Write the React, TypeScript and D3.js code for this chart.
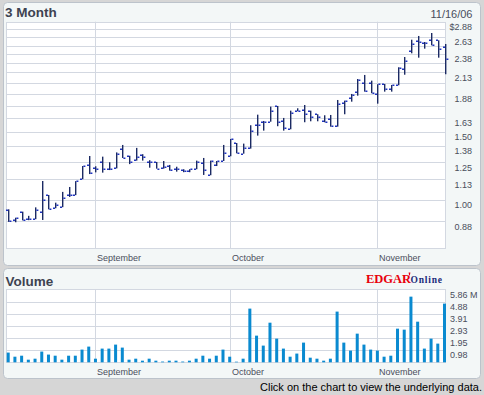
import React from 'react';
import * as d3 from 'd3';

const dates = ["08/15","08/16","08/17","08/18","08/21","08/22","08/23","08/24","08/25","08/28","08/29","08/30","08/31","09/01","09/05","09/06","09/07","09/08","09/11","09/12","09/13","09/14","09/15","09/18","09/19","09/20","09/21","09/22","09/25","09/26","09/27","09/28","09/29","10/02","10/03","10/04","10/05","10/06","10/09","10/10","10/11","10/12","10/13","10/16","10/17","10/18","10/19","10/20","10/23","10/24","10/25","10/26","10/27","10/30","10/31","11/01","11/02","11/03","11/06","11/07","11/08","11/09","11/10","11/13","11/14","11/15"];

const opens = [0.942,0.887,0.930,0.892,0.891,0.930,1.029,0.955,0.957,1.026, 1.028,1.130,1.230,1.208,1.250,1.199,1.205,1.350,1.297,1.263, 1.305,1.252,1.252,1.206,1.225,1.199,1.194,1.185,1.199,1.247, 1.157,1.230,1.259,1.295,1.401,1.315,1.358,1.557,1.587,1.590, 1.746,1.594,1.520,1.692,1.702,1.698,1.662,1.600,1.613,1.548, 1.780,1.827,1.894,2.001,1.998,1.871,1.986,1.935,1.974,2.171, 2.416,2.564,2.533,2.579,2.579,2.474];
const highs = [0.945,0.899,0.932,0.909,0.956,1.118,1.029,0.983,1.048,1.079, 1.117,1.222,1.297,1.220,1.292,1.250,1.325,1.385,1.299,1.361, 1.311,1.265,1.252,1.259,1.230,1.217,1.199,1.199,1.262,1.282, 1.262,1.259,1.385,1.435,1.401,1.396,1.557,1.658,1.597,1.739, 1.746,1.626,1.698,1.722,1.756,1.698,1.662,1.652,1.655,1.809, 1.802,1.875,2.049,2.099,2.029,1.986,1.990,1.978,2.197,2.335, 2.588,2.646,2.553,2.693,2.579,2.523];
const lows = [0.877,0.875,0.885,0.886,0.891,0.887,0.945,0.951,0.957,1.017, 1.028,1.130,1.165,1.177,1.175,1.193,1.205,1.282,1.236,1.262, 1.262,1.210,1.203,1.203,1.189,1.182,1.178,1.178,1.199,1.159, 1.157,1.222,1.259,1.295,1.318,1.315,1.355,1.464,1.508,1.590, 1.548,1.508,1.520,1.692,1.585,1.594,1.594,1.585,1.544,1.544, 1.662,1.791,1.856,1.901,1.883,1.770,1.901,1.901,1.974,2.102, 2.387,2.326,2.454,2.503,2.326,2.108];
const closes = [0.882,0.898,0.887,0.891,0.940,0.998,0.945,0.970,1.010,1.026, 1.117,1.222,1.171,1.199,1.199,1.199,1.311,1.284,1.252,1.291, 1.292,1.252,1.203,1.217,1.196,1.199,1.185,1.199,1.254,1.194, 1.259,1.259,1.323,1.433,1.318,1.358,1.505,1.557,1.590,1.695, 1.590,1.535,1.672,1.695,1.662,1.632,1.632,1.590,1.548,1.767, 1.802,1.864,2.037,1.905,1.889,1.986,1.935,1.974,2.192,2.277, 2.518,2.549,2.533,2.512,2.445,2.304];
const volumes = [0.78,0.45,0.53,0.21,0.29,0.86,0.62,0.53,0.21,0.53, 0.53,1.02,1.26,0.29,1.10,1.10,1.42,1.18,0.21,0.29, 0.13,0.29,0.13,0.06,0.13,0.13,0.06,0.13,0.29,0.53, 0.29,0.53,1.02,0.45,0.05,0.29,4.31,2.14,1.34,3.18, 1.90,1.10,0.45,0.70,1.58,0.37,0.29,0.13,0.29,4.07, 1.58,0.94,2.30,1.42,1.02,0.94,0.45,0.53,2.70,2.62, 5.27,3.26,1.10,1.90,1.50,4.71];

const priceGrid = [0.88,1.00,1.13,1.25,1.38,1.50,1.63,1.75,1.88,2.00,2.13,2.25,2.38,2.50,2.63,2.75,2.88];
const priceTickValues = [0.88,1.00,1.13,1.25,1.38,1.50,1.63,1.88,2.13,2.38,2.63,2.88];
const priceTickLabels = ["0.88","1.00","1.13","1.25","1.38","1.50","1.63","1.88","2.13","2.38","2.63","$2.88"];
const volTickValues = [0.98,1.95,2.93,3.91,4.88,5.86];
const volTickLabels = ["0.98","1.95","2.93","3.91","4.88","5.86 M"];
const monthNames = ["January","February","March","April","May","June","July","August","September","October","November","December"];
const title = "3 Month";
const volTitle = "Volume";
const dateLabel = "11/16/06";
const footer = "Click on the chart to view the underlying data.";

const PL = 6, PR = 446;
const P_TOP = 21.7, P_BOT = 248.3;
const V_TOP = 289.3, V_BOT = 362.3;
const GRID = "#d3d8e1";
const TXT = "#4a4e5c";
const FONT = "'Liberation Sans', Arial, sans-serif";

export default function App() {
  const idx = d3.range(dates.length);
  const x = d3.scalePoint<number>().domain(idx).range([8.2, 444.5]);
  const y = d3.scaleLog().domain([0.88, 2.88]).range([221.3, 21.7]);
  const yv = d3.scaleLinear().domain([0, 5.86]).range([V_BOT, V_TOP]);

  const monthStarts = idx.filter(i => i > 0 && dates[i].slice(0, 2) !== dates[i - 1].slice(0, 2));
  const crisp = (v: number) => Math.round(v) + 0.5;

  const monthLines = (top: number, bot: number, key: string) =>
    monthStarts.map(i => {
      const mx = crisp(x(i)!);
      return <line key={key + i} x1={mx} x2={mx} y1={top} y2={bot} stroke={GRID} strokeWidth={1} />;
    });
  const monthLabels = (labelY: number, key: string) =>
    monthStarts.map(i => (
      <text key={key + i} x={crisp(x(i)!) + 1.5} y={labelY} fontSize={9} fill={TXT} fontFamily={FONT}>
        {monthNames[parseInt(dates[i].slice(0, 2), 10) - 1]}
      </text>
    ));

  return (
    <svg width={484} height={395} style={{ position: 'absolute', left: 0, top: 0 }} fontFamily={FONT}>
      <rect x={0} y={0} width={484} height={395} fill="#d6d6d6" />
      <rect x={3.5} y={2.5} width={477} height={263} rx={4} fill="#f3f7f7" stroke="#bcc3cb" />
      <rect x={3.5} y={268.5} width={477} height={110} rx={4} fill="#f3f7f7" stroke="#bcc3cb" />

      <text x={5} y={17.3} fontSize={13.5} fontWeight="bold" fill="#3e4351">{title}</text>
      <text x={472.5} y={18} fontSize={11} fill={TXT} textAnchor="end">{dateLabel}</text>

      {/* price plot */}
      <rect x={PL + 0.5} y={crisp(P_TOP)} width={PR - PL - 1} height={Math.round(P_BOT) - Math.round(P_TOP)} fill="#ffffff" stroke={GRID} />
      {priceGrid.map(v => (
        <line key={'pg' + v} x1={PL} x2={PR} y1={crisp(y(v))} y2={crisp(y(v))} stroke={GRID} />
      ))}
      {monthLines(P_TOP, P_BOT, 'pm')}
      {priceTickValues.map((v, k) => (
        <text key={'pt' + v} x={472} y={y(v) + 8.5} fontSize={9} fill={TXT} textAnchor="end">{priceTickLabels[k]}</text>
      ))}
      {monthLabels(260.5, 'pml')}

      {idx.map(i => {
        const cx = Math.round(x(i)!);
        const yh = y(highs[i]), yl = y(lows[i]);
        const yo = Math.round(y(opens[i])), yc = Math.round(y(closes[i]));
        return (
          <g key={'b' + i}>
            <rect x={cx} y={yh} width={1.4} height={Math.max(1, yl - yh)} fill="#1b2a63" />
            <rect x={cx - 2} y={yo - 0.5} width={2} height={1.5} fill="#1f33c0" />
            <rect x={cx + 1.4} y={yc - 0.5} width={2} height={1.5} fill="#1f33c0" />
          </g>
        );
      })}

      {/* volume */}
      <text x={5.5} y={285.5} fontSize={13.5} fontWeight="bold" fill="#3e4351">{volTitle}</text>
      <text x={366} y={282.6} fontSize={12.5} fontWeight="bold" fill="#e8000b" fontFamily="'Liberation Serif', 'Times New Roman', serif">EDGAR</text>
      <path d="M408.6,272.5 L410.4,272.5 L409.8,275.5 L409.2,275.5 Z" fill="#e8000b" />
      <text x={410.5} y={282.6} fontSize={9.5} fontWeight="bold" fill="#1b2a7a" fontFamily="'Liberation Serif', 'Times New Roman', serif" textLength={31.5}>Online</text>

      <rect x={PL + 0.5} y={crisp(V_TOP)} width={PR - PL - 1} height={Math.round(V_BOT) - Math.round(V_TOP)} fill="#ffffff" stroke={GRID} />
      {volTickValues.map(v => (
        <line key={'vg' + v} x1={PL} x2={PR} y1={crisp(yv(v))} y2={crisp(yv(v))} stroke={GRID} />
      ))}
      {monthLines(V_TOP, V_BOT, 'vm')}
      {volTickValues.map((v, k) => (
        <text key={'vt' + v} x={450} y={yv(v) + 8.3} fontSize={9} fill={TXT}>{volTickLabels[k]}</text>
      ))}
      {monthLabels(374.8, 'vml')}
      {idx.map(i => (
        <rect key={'v' + i} x={x(i)! - 1.5} y={yv(volumes[i])} width={3} height={V_BOT - yv(volumes[i])} fill="#0a8ad0" />
      ))}

      <text x={482} y={390.5} fontSize={11} fill="#000000" textAnchor="end">{footer}</text>
    </svg>
  );
}
